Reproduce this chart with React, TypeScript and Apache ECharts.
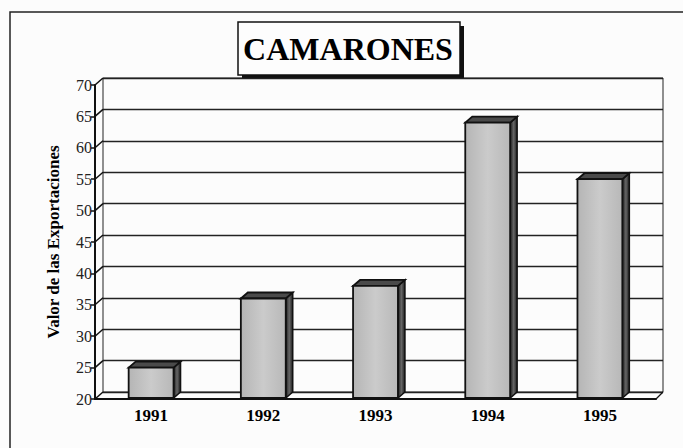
import React, { useEffect, useRef } from "react";
import * as echarts from "echarts";

const years = ["1991", "1992", "1993", "1994", "1995"];
const exportValues = [25, 36, 38, 64, 55];
const yTicks = [20, 25, 30, 35, 40, 45, 50, 55, 60, 65, 70];
const yMin = 20;
const yMax = 70;
const yStep = 5;
const titleText = "CAMARONES";
const yName = "Valor de las Exportaciones";

const SERIF = "'Liberation Serif', 'DejaVu Serif', serif";

export default function App() {
  const ref = useRef<HTMLDivElement>(null);

  useEffect(() => {
    if (!ref.current) return;
    const chart = echarts.init(ref.current, null, { renderer: "svg" });

    const wallDX = 8;
    const wallDY = -7;
    const barDX = 7;
    const barDY = -6;

    const option: any = {
      animation: false,
      backgroundColor: "#fcfcfc",
      grid: [
        { left: 95, right: 27, top: 85, bottom: 49 },
        {
          left: 103,
          right: 20,
          top: 78,
          bottom: 56,
          show: true,
          borderColor: "#222",
          borderWidth: 1,
          backgroundColor: "transparent",
        },
      ],
      xAxis: [
        {
          type: "category",
          gridIndex: 0,
          data: years,
          axisLine: { show: true, lineStyle: { color: "#111", width: 2 } },
          axisTick: { show: false },
          axisLabel: {
            color: "#000",
            fontFamily: SERIF,
            fontWeight: "bold",
            fontSize: 17,
            margin: 8,
          },
        },
        {
          type: "category",
          gridIndex: 1,
          data: years,
          show: false,
        },
      ],
      yAxis: [
        {
          type: "value",
          gridIndex: 0,
          min: yMin,
          max: yMax,
          interval: yStep,
          name: yName,
          nameLocation: "middle",
          nameGap: 33,
          nameTextStyle: {
            color: "#000",
            fontFamily: SERIF,
            fontWeight: "bold",
            fontSize: 17,
          },
          axisLine: { show: true, lineStyle: { color: "#111", width: 2 } },
          axisTick: { show: true, length: 4, lineStyle: { color: "#111", width: 1.5 } },
          splitLine: { show: false },
          axisLabel: {
            color: "#222",
            fontFamily: SERIF,
            fontSize: 16,
            margin: 3,
          },
        },
        {
          type: "value",
          gridIndex: 1,
          min: yMin,
          max: yMax,
          interval: yStep,
          axisLine: { show: false },
          axisTick: { show: false },
          axisLabel: { show: false },
          splitLine: { show: true, lineStyle: { color: "#222", width: 1.3 } },
        },
      ],
      graphic: [
        {
          type: "rect",
          shape: { x: 10, y: 12, width: 700, height: 460 },
          style: { fill: "none", stroke: "#222", lineWidth: 1.5 },
          z: 0,
        },
        {
          type: "group",
          z: 10,
          children: [
            {
              type: "rect",
              shape: { x: 242, y: 26, width: 222, height: 53 },
              style: { fill: "#111" },
            },
            {
              type: "rect",
              shape: { x: 238, y: 22, width: 222, height: 53 },
              style: { fill: "#fdfdfd", stroke: "#111", lineWidth: 1.5 },
            },
            {
              type: "text",
              x: 348,
              y: 49,
              style: {
                text: titleText,
                fill: "#000",
                font: `bold 32px ${SERIF}`,
                align: "center",
                verticalAlign: "middle",
              },
            },
          ],
        },
      ],
      series: [
        {
          type: "custom",
          xAxisIndex: 0,
          yAxisIndex: 0,
          silent: true,
          data: yTicks.map((v) => [0, v]),
          encode: { x: 0, y: 1 },
          renderItem: (params: any, api: any) => {
            const cs = params.coordSys;
            const v = api.value(1);
            const y = api.coord([0, v])[1];
            const children: any[] = [
              {
                type: "line",
                shape: { x1: cs.x, y1: y, x2: cs.x + wallDX, y2: y + wallDY },
                style: { stroke: "#111", lineWidth: 1.5 },
              },
            ];
            if (v === yMin) {
              children.push({
                type: "line",
                shape: {
                  x1: cs.x + cs.width,
                  y1: y,
                  x2: cs.x + cs.width + barDX,
                  y2: y + wallDY,
                },
                style: { stroke: "#111", lineWidth: 1.2 },
              });
            }
            return { type: "group", children };
          },
          z: 2,
        },
        {
          type: "custom",
          xAxisIndex: 0,
          yAxisIndex: 0,
          data: exportValues.map((v, i) => [i, v]),
          encode: { x: 0, y: 1 },
          renderItem: (params: any, api: any) => {
            const idx = api.value(0);
            const v = api.value(1);
            const top = api.coord([idx, v]);
            const bot = api.coord([idx, yMin]);
            const band = api.size([1, 0])[0];
            const w = band * 0.4;
            const x = top[0] - w / 2;
            const yt = top[1];
            const yb = bot[1] - 1;
            return {
              type: "group",
              children: [
                {
                  type: "polygon",
                  shape: {
                    points: [
                      [x + w, yt],
                      [x + w + barDX, yt + barDY],
                      [x + w + barDX, yb + barDY],
                      [x + w, yb],
                    ],
                  },
                  style: {
                    fill: new echarts.graphic.LinearGradient(0, 0, 1, 0, [
                      { offset: 0, color: "#1e1e1e" },
                      { offset: 0.5, color: "#666" },
                      { offset: 1, color: "#1e1e1e" },
                    ]),
                    stroke: "#111",
                    lineWidth: 1.5,
                  },
                },
                {
                  type: "polygon",
                  shape: {
                    points: [
                      [x, yt],
                      [x + barDX, yt + barDY],
                      [x + w + barDX, yt + barDY],
                      [x + w, yt],
                    ],
                  },
                  style: { fill: "#4a4a4a", stroke: "#111", lineWidth: 1.8 },
                },
                {
                  type: "rect",
                  shape: { x, y: yt, width: w, height: yb - yt },
                  style: {
                    fill: new echarts.graphic.LinearGradient(0, 0, 1, 0, [
                      { offset: 0, color: "#b5b5b5" },
                      { offset: 0.5, color: "#cbcbcb" },
                      { offset: 1, color: "#b8b8b8" },
                    ]),
                    stroke: "#111",
                    lineWidth: 1.8,
                  },
                },
              ],
            };
          },
          z: 3,
        },
      ],
    };

    chart.setOption(option);
    return () => chart.dispose();
  }, []);

  return (
    <div
      ref={ref}
      style={{ position: "fixed", left: 0, top: 0, width: 683, height: 448 }}
    />
  );
}
